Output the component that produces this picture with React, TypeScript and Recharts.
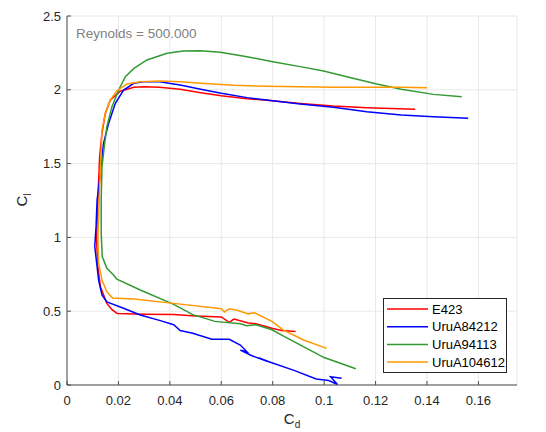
import React from 'react';
import { LineChart, Line, XAxis, YAxis, CartesianGrid, Customized } from 'recharts';

const xTicks = [0, 0.02, 0.04, 0.06, 0.08, 0.1, 0.12, 0.14, 0.16];
const yTicks = [0, 0.5, 1, 1.5, 2, 2.5];
const seriesNames = ['E423', 'UruA84212', 'UruA94113', 'UruA104612'];
const seriesColors = ['#ff0000', '#0000ff', '#339933', '#ff9900'];

const e423Cd = [0.0889, 0.0834, 0.0797, 0.0735, 0.0705, 0.0649, 0.0631, 0.060, 0.050, 0.0415, 0.030, 0.0195, 0.0175, 0.0155, 0.013, 0.012, 0.0115, 0.0118, 0.0122, 0.0127, 0.0136, 0.0149, 0.0168, 0.0207, 0.026, 0.0298, 0.036, 0.044, 0.052, 0.060, 0.070, 0.080, 0.0907, 0.1036, 0.1166, 0.1354];
const e423Cl = [0.362, 0.369, 0.385, 0.415, 0.42, 0.447, 0.424, 0.461, 0.468, 0.477, 0.48, 0.485, 0.51, 0.553, 0.666, 0.80, 0.98, 1.14, 1.34, 1.55, 1.705, 1.84, 1.93, 1.99, 2.017, 2.02, 2.017, 2.003, 1.98, 1.96, 1.94, 1.926, 1.908, 1.89, 1.879, 1.868];

const uru84Cd = [0.1068, 0.1025, 0.1052, 0.1018, 0.0969, 0.0883, 0.0785, 0.0745, 0.0778, 0.0717, 0.0674, 0.0700, 0.0674, 0.0631, 0.0563, 0.0489, 0.044, 0.0415, 0.0363, 0.0285, 0.022, 0.0155, 0.0136, 0.0123, 0.0114, 0.0108, 0.0113, 0.0117, 0.013, 0.0142, 0.0162, 0.0188, 0.022, 0.026, 0.0298, 0.036, 0.044, 0.052, 0.06, 0.07, 0.08, 0.0907, 0.1036, 0.1166, 0.13, 0.1425, 0.156];
const uru84Cl = [0.046, 0.056, 0.003, 0.03, 0.041, 0.099, 0.158, 0.185, 0.16, 0.2, 0.236, 0.225, 0.271, 0.31, 0.31, 0.351, 0.369, 0.408, 0.436, 0.474, 0.52, 0.563, 0.61, 0.711, 0.847, 0.94, 1.073, 1.253, 1.434, 1.637, 1.773, 1.908, 1.998, 2.044, 2.055, 2.055, 2.033, 2.003, 1.976, 1.947, 1.926, 1.904, 1.881, 1.852, 1.829, 1.818, 1.807];

const uru94Cd = [0.1123, 0.1, 0.0932, 0.0846, 0.0797, 0.0735, 0.0698, 0.0674, 0.0575, 0.0489, 0.0415, 0.0285, 0.0194, 0.0181, 0.0155, 0.0137, 0.0133, 0.0133, 0.0136, 0.0145, 0.0155, 0.0175, 0.0201, 0.0227, 0.026, 0.0311, 0.0389, 0.0453, 0.0518, 0.0596, 0.07, 0.08, 0.0907, 0.0998, 0.11, 0.1205, 0.13, 0.1425, 0.1535];
const uru94Cl = [0.11, 0.186, 0.248, 0.328, 0.374, 0.408, 0.401, 0.415, 0.431, 0.477, 0.546, 0.644, 0.717, 0.745, 0.79, 0.87, 1.03, 1.253, 1.479, 1.615, 1.75, 1.886, 1.999, 2.089, 2.145, 2.202, 2.247, 2.263, 2.265, 2.254, 2.224, 2.19, 2.157, 2.127, 2.084, 2.039, 2.003, 1.969, 1.953];

const uru104Cd = [0.101, 0.092, 0.084, 0.0797, 0.0729, 0.0705, 0.0662, 0.0631, 0.0612, 0.06, 0.0415, 0.026, 0.0177, 0.0155, 0.0136, 0.0123, 0.012, 0.0123, 0.0127, 0.0132, 0.0136, 0.0149, 0.0168, 0.0194, 0.0233, 0.0285, 0.0363, 0.044, 0.052, 0.0648, 0.0777, 0.0907, 0.1036, 0.1166, 0.13, 0.14];
const uru104Cl = [0.248, 0.305, 0.374, 0.431, 0.489, 0.482, 0.507, 0.516, 0.495, 0.516, 0.553, 0.583, 0.59, 0.632, 0.711, 0.824, 0.98, 1.14, 1.34, 1.547, 1.728, 1.84, 1.931, 1.994, 2.039, 2.055, 2.06, 2.055, 2.044, 2.03, 2.024, 2.021, 2.017, 2.017, 2.017, 2.014];

const toPoints = (cd: number[], cl: number[]) => cd.map((v, i) => ({ cd: v, cl: cl[i] }));
const seriesData = [
  toPoints(e423Cd, e423Cl),
  toPoints(uru84Cd, uru84Cl),
  toPoints(uru94Cd, uru94Cl),
  toPoints(uru104Cd, uru104Cl),
];

const FONT = '"Liberation Sans", Arial, Helvetica, sans-serif';

const Overlay = () => (
  <g fontFamily={FONT}>
    <text x={68} y={30} fontSize={13.5} fill="#7f7f7f">Reynolds = 500.000</text>
    <text x={19} y={192} fontSize={15} fill="#262626" textAnchor="middle" transform="rotate(-90 19 192)">
      C<tspan fontSize={10} dy={4}>l</tspan>
    </text>
    <text x={284} y={416} fontSize={15} fill="#262626" textAnchor="middle">
      C<tspan fontSize={10} dy={4}>d</tspan>
    </text>
    <g>
      <rect x={375.5} y={290.5} width={123} height={74} fill="#fff" stroke="#262626" strokeWidth={1} />
      {seriesNames.map((n, i) => {
        const cy = 301 + i * 17.7;
        return (
          <g key={n}>
            <line x1={379} x2={420} y1={cy} y2={cy} stroke={seriesColors[i]} strokeWidth={1.5} />
            <text x={424} y={cy + 4.6} fontSize={13} fill="#000">{n}</text>
          </g>
        );
      })}
    </g>
  </g>
);

export default function App() {
  return (
    <LineChart width={538} height={424} margin={{ top: 8, right: 29, bottom: 17, left: 19 }}>
      <CartesianGrid stroke="#e8e8e8" strokeWidth={1} />
      <XAxis
        type="number"
        dataKey="cd"
        domain={[0, 0.175]}
        ticks={xTicks}
        allowDataOverflow
        height={30}
        tickSize={-4}
        tickMargin={15}
        stroke="#4d4d4d"
        tick={{ fill: '#262626', fontSize: 13, fontFamily: FONT }}
      />
      <YAxis
        type="number"
        dataKey="cl"
        domain={[0, 2.5]}
        ticks={yTicks}
        allowDataOverflow
        width={40}
        tickSize={-4}
        tickMargin={10}
        stroke="#4d4d4d"
        tick={{ fill: '#262626', fontSize: 13, fontFamily: FONT }}
      />
      {seriesData.map((d, i) => (
        <Line
          key={seriesNames[i]}
          data={d}
          dataKey="cl"
          name={seriesNames[i]}
          stroke={seriesColors[i]}
          strokeWidth={1.5}
          dot={false}
          activeDot={false}
          type="linear"
          isAnimationActive={false}
        />
      ))}
      <Customized component={Overlay} />
    </LineChart>
  );
}
